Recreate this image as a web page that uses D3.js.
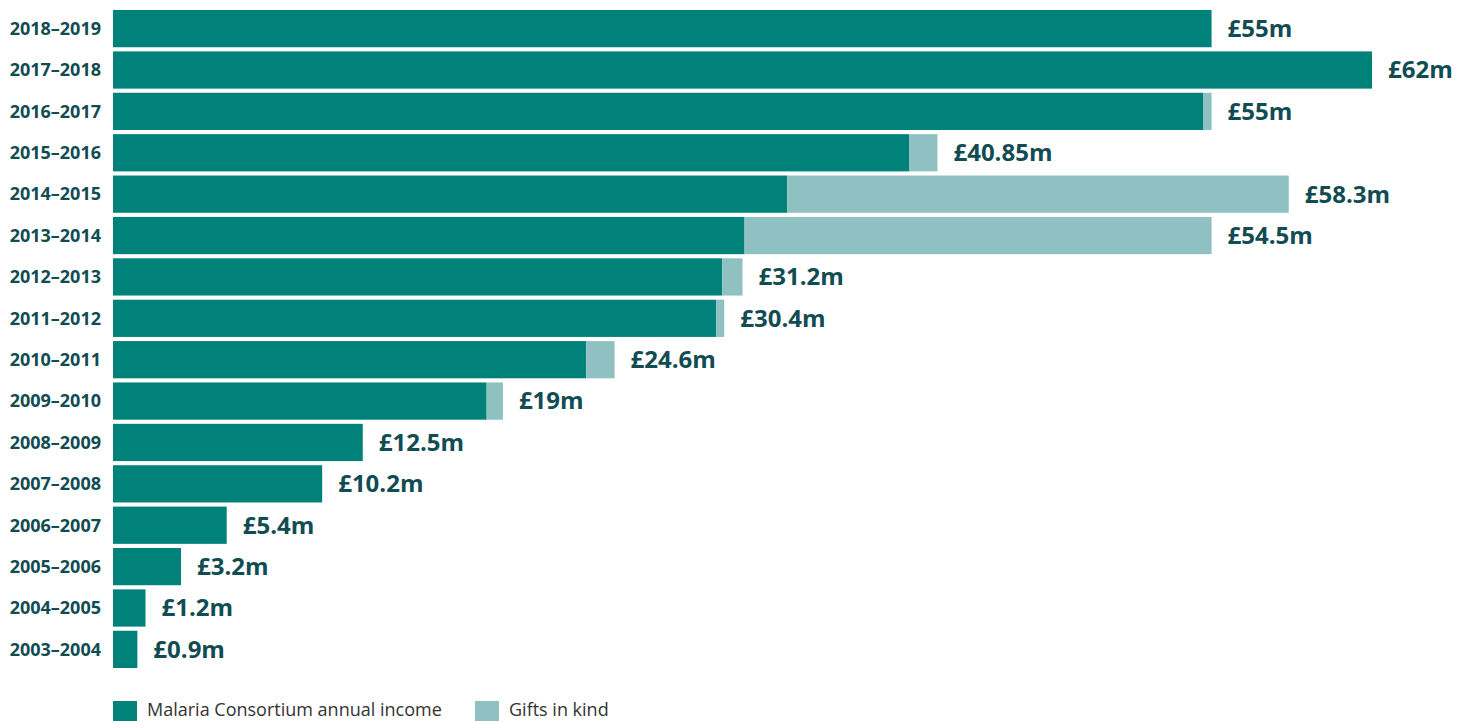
<!DOCTYPE html>
<html>
<head>
<meta charset="utf-8">
<script src="https://cdn.jsdelivr.net/npm/d3@7"></script>
<style>
  html, body { margin: 0; padding: 0; background: #fff; }
  svg { display: block; }
</style>
</head>
<body>
<svg id="chart" width="1470" height="721"></svg>
<script>
(function () {
  'use strict';

  // ─── Data ─────────────────────────────────────────
  const years = [
    '2018–2019', '2017–2018', '2016–2017', '2015–2016', '2014–2015', '2013–2014',
    '2012–2013', '2011–2012', '2010–2011', '2009–2010', '2008–2009', '2007–2008',
    '2006–2007', '2005–2006', '2004–2005', '2003–2004'
  ];
  // £m (the printed totals are kept as text below)
  const income = [54.1, 62, 53.7, 39.2, 33.2, 31.1, 30.0, 29.7, 23.3, 18.4, 12.3, 10.3, 5.6, 3.35, 1.6, 1.2];
  const giftsInKind = [0, 0, 0.4, 1.4, 24.7, 23.0, 1.0, 0.4, 1.4, 0.8, 0, 0, 0, 0, 0, 0];
  const totalLabels = [
    '£55m', '£62m', '£55m', '£40.85m', '£58.3m', '£54.5m', '£31.2m', '£30.4m',
    '£24.6m', '£19m', '£12.5m', '£10.2m', '£5.4m', '£3.2m', '£1.2m', '£0.9m'
  ];
  const seriesNames = ['Malaria Consortium annual income', 'Gifts in kind'];

  const COLORS = ['#00827a', '#8fc1c3'];
  const TEXT_DARK = '#114c53';
  const FONT = '"Open Sans", sans-serif';

  const svg = d3.select('#chart');

  const rows = years.map(function (y, i) {
    return { year: y, income: income[i], gifts: giftsInKind[i], label: totalLabels[i] };
  });

  const x = d3.scaleLinear().domain([0, 62]).range([113, 1372]);
  const y = d3.scaleBand().domain(years).range([10, 668]).paddingInner(0.1).paddingOuter(0);

  const stack = d3.stack().keys(['income', 'gifts'])(rows);

  // ─── Bars ─────────────────────────────────────────
  svg.append('g').selectAll('g')
    .data(stack)
    .join('g')
    .attr('fill', function (d, i) { return COLORS[i]; })
    .selectAll('rect')
    .data(function (d) { return d; })
    .join('rect')
    .attr('x', function (d) { return x(d[0]); })
    .attr('y', function (d) { return y(d.data.year); })
    .attr('width', function (d) { return Math.max(0, x(d[1]) - x(d[0])); })
    .attr('height', y.bandwidth());

  // ─── Year labels ──────────────────────────────────
  svg.append('g').selectAll('text')
    .data(rows)
    .join('text')
    .attr('x', 101)
    .attr('y', function (d) { return y(d.year) + y.bandwidth() / 2; })
    .attr('dy', '0.35em')
    .attr('text-anchor', 'end')
    .attr('fill', TEXT_DARK)
    .style('font-family', FONT)
    .style('font-weight', '700')
    .style('font-size', '18px')
    .text(function (d) { return d.year; });

  // ─── Value labels ─────────────────────────────────
  svg.append('g').selectAll('text')
    .data(rows)
    .join('text')
    .attr('x', function (d) { return x(d.income + d.gifts) + 16; })
    .attr('y', function (d) { return y(d.year) + y.bandwidth() / 2; })
    .attr('dy', '0.35em')
    .attr('text-anchor', 'start')
    .attr('fill', TEXT_DARK)
    .style('font-family', FONT)
    .style('font-weight', '700')
    .style('font-size', '24px')
    .text(function (d) { return d.label; });

  // ─── Legend ───────────────────────────────────────
  const legendX = [113, 475];
  const legend = svg.append('g').selectAll('g')
    .data(seriesNames)
    .join('g')
    .attr('transform', function (d, i) { return 'translate(' + legendX[i] + ',701)'; });

  legend.append('rect')
    .attr('width', 24)
    .attr('height', 20)
    .attr('fill', function (d, i) { return COLORS[i]; });

  legend.append('text')
    .attr('x', 34)
    .attr('y', 15)
    .attr('fill', '#333')
    .style('font-family', FONT)
    .style('font-size', '18px')
    .text(function (d) { return d; });
})();
</script>
</body>
</html>
